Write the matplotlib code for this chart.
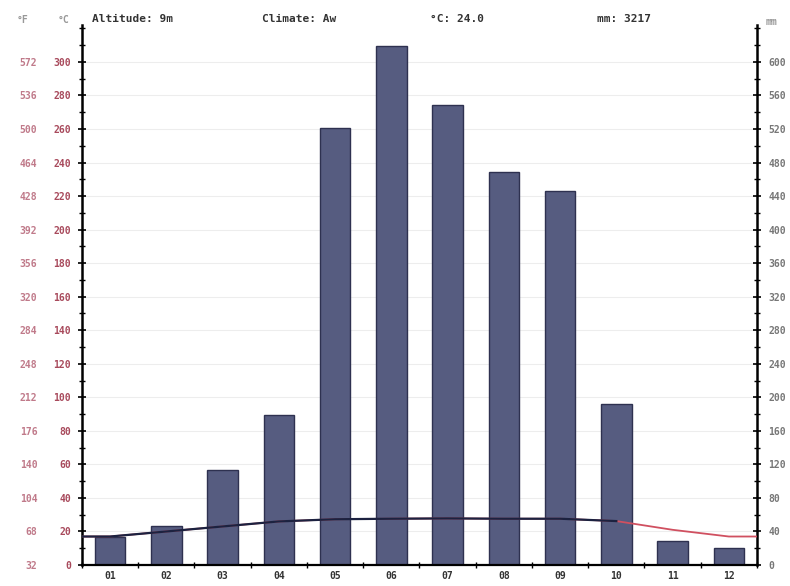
import numpy as np
import matplotlib
matplotlib.use("Agg")
import matplotlib.pyplot as plt

# monthly climate values
months = ["01", "02", "03", "04", "05", "06", "07", "08", "09", "10", "11", "12"]
precip_mm = [33, 47, 113, 179, 521, 619, 549, 469, 446, 192, 29, 20]
temp_c = [17.0, 20.0, 23.0, 26.0, 27.3, 27.6, 27.8, 27.6, 27.6, 26.2, 21.0, 17.0]
altitude = "9m"
climate = "Aw"

# axis tick values
c_ticks = list(range(0, 301, 20))
f_ticks = [32 + 36 * k for k in range(16)]
mm_ticks = list(range(0, 601, 40))

mono = "DejaVu Sans Mono"
fs = 7
x = np.arange(1, 13)

fig = plt.figure(figsize=(7.9, 5.86), dpi=100)
ax = fig.add_axes([0.1038, 0.0358, 0.8544, 0.9215])
ax2 = ax.twinx()

# precipitation bars (right-hand mm scale)
ax.bar(x, precip_mm, width=0.54, color="#565c80", edgecolor="#2e3150",
       linewidth=1.0, zorder=2)
ax.set_xlim(0.5, 12.5)
ax.set_ylim(0, 644)
ax.yaxis.tick_right()
ax.set_yticks(mm_ticks)
ax.set_yticklabels([str(v) for v in mm_ticks], fontfamily=mono,
                   fontsize=fs, fontweight="bold", color="#777777")
ax.yaxis.set_minor_locator(matplotlib.ticker.MultipleLocator(20))
ax.tick_params(axis="y", which="major", direction="inout", length=6,
               width=1.2, pad=5)
ax.tick_params(axis="y", which="minor", direction="inout", length=4, width=1)
for v in mm_ticks[1:]:
    ax.axhline(v, color="#ededed", lw=0.8, zorder=0)

ax.set_xticks(x)
ax.set_xticklabels(months, fontfamily=mono, fontsize=fs, fontweight="bold",
                   color="#333333")
ax.set_xticks(np.arange(0.5, 13, 1), minor=True)
ax.tick_params(axis="x", which="major", length=0, pad=4)
ax.tick_params(axis="x", which="minor", direction="inout", length=4, width=1)

ax.spines["top"].set_visible(False)
ax.spines["left"].set_visible(False)
ax.spines["right"].set_linewidth(1.8)
ax.spines["bottom"].set_linewidth(1.6)

# temperature axis (left, °C) and line
ax2.set_ylim(0, 322)
ax2.yaxis.tick_left()
ax2.set_yticks(c_ticks)
ax2.set_yticklabels([str(v) for v in c_ticks], fontfamily=mono, fontsize=fs,
                    fontweight="bold", color="#a84a5c")
ax2.yaxis.set_minor_locator(matplotlib.ticker.MultipleLocator(10))
ax2.tick_params(axis="y", which="major", direction="inout", length=6,
                width=1.2, pad=5)
ax2.tick_params(axis="y", which="minor", direction="inout", length=4, width=1)
ax2.spines["left"].set_linewidth(1.8)
for side in ["top", "right", "bottom"]:
    ax2.spines[side].set_visible(False)

# extend the line to both edges of the plot
tx = np.r_[0.5, x, 12.5]
ty = np.r_[temp_c[0], temp_c, temp_c[-1]]
ax2.plot(tx, ty, color="#d05060", lw=1.3, zorder=3)
humid = tx <= 10
ax2.plot(tx[humid], ty[humid], color="#1c2240", lw=1.6, zorder=4)

# °F scale outside the °C labels
sec = ax2.secondary_yaxis(-0.058, functions=(lambda c: c * 1.8 + 32,
                                             lambda f: (f - 32) / 1.8))
sec.set_yticks(f_ticks)
sec.set_yticklabels([str(v) for v in f_ticks], fontfamily=mono, fontsize=fs,
                    fontweight="bold", color="#c07a8a")
sec.tick_params(length=0, pad=4)
sec.spines["left"].set_visible(False)

# unit labels
fig.text(0.028, 0.966, "°F", fontfamily=mono, fontsize=fs, fontweight="bold",
         color="#999999", ha="center", va="center")
fig.text(0.080, 0.966, "°C", fontfamily=mono, fontsize=fs, fontweight="bold",
         color="#999999", ha="center", va="center")
fig.text(0.977, 0.962, "mm", fontfamily=mono, fontsize=fs, fontweight="bold",
         color="#999999", ha="center", va="center")

# header line
head = dict(fontfamily=mono, fontsize=8, fontweight="bold", color="#333333",
            va="center", ha="left")
fig.text(0.117, 0.967, f"Altitude: {altitude}", **head)
fig.text(0.332, 0.967, f"Climate: {climate}", **head)
fig.text(0.544, 0.967, f"°C: {np.mean(temp_c):.1f}", **head)
fig.text(0.756, 0.967, f"mm: {sum(precip_mm)}", **head)

fig.savefig("out.png", dpi=100)
